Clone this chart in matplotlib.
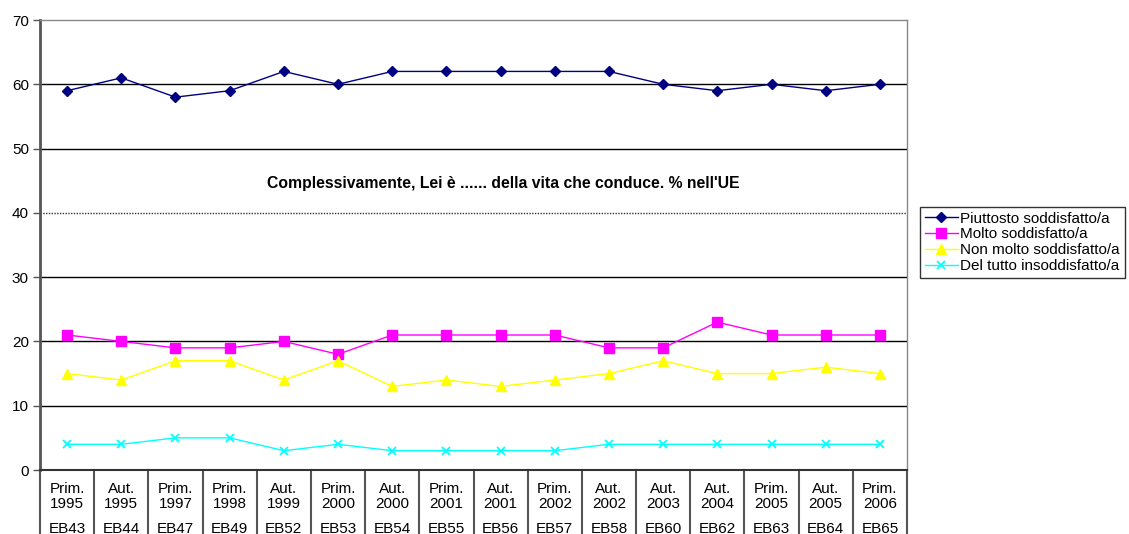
import matplotlib
matplotlib.use("Agg")
import matplotlib.pyplot as plt
from matplotlib.lines import Line2D

plt.rcParams['font.family'] = ['Liberation Sans', 'DejaVu Sans']

periods = ["Prim.\n1995", "Aut.\n1995", "Prim.\n1997", "Prim.\n1998", "Aut.\n1999", "Prim.\n2000",
           "Aut.\n2000", "Prim.\n2001", "Aut.\n2001", "Prim.\n2002", "Aut.\n2002", "Aut.\n2003",
           "Aut.\n2004", "Prim.\n2005", "Aut.\n2005", "Prim.\n2006"]
surveys = ["EB43", "EB44", "EB47", "EB49", "EB52", "EB53", "EB54", "EB55", "EB56", "EB57",
           "EB58", "EB60", "EB62", "EB63", "EB64", "EB65"]

piuttosto = [59, 61, 58, 59, 62, 60, 62, 62, 62, 62, 62, 60, 59, 60, 59, 60]
molto = [21, 20, 19, 19, 20, 18, 21, 21, 21, 21, 19, 19, 23, 21, 21, 21]
non_molto = [15, 14, 17, 17, 14, 17, 13, 14, 13, 14, 15, 17, 15, 15, 16, 15]
del_tutto = [4, 4, 5, 5, 3, 4, 3, 3, 3, 3, 4, 4, 4, 4, 4, 4]

series_names = ["Piuttosto soddisfatto/a", "Molto soddisfatto/a",
                "Non molto soddisfatto/a", "Del tutto insoddisfatto/a"]
title = "Complessivamente, Lei è ...... della vita che conduce. % nell'UE"

fig = plt.figure(figsize=(11.29, 5.34), dpi=100)
ax = fig.add_axes([40/1129, 64/534, 867/1129, 450/534])

n = len(periods)
x = list(range(n))

# gridlines
for v in range(10, 70, 10):
    if v == 40:
        ax.axhline(v, color='#333333', lw=1.0, ls=(0, (1, 1)), zorder=1)
    else:
        ax.axhline(v, color='black', lw=1.0, zorder=1)

ax.plot(x, piuttosto, color='#000080', marker='D', ms=5.5, lw=1.0, label=series_names[0], zorder=3)
ax.plot(x, molto, color='#FF00FF', marker='s', ms=6.5, lw=1.0, label=series_names[1], zorder=3)
ax.plot(x, non_molto, color='#FFFF00', marker='^', ms=7, lw=1.0, label=series_names[2], zorder=3)
ax.plot(x, del_tutto, color='#00FFFF', marker='x', ms=6, mew=1.3, lw=1.0, label=series_names[3], zorder=3)

ax.set_xlim(-0.5, n - 0.5)
ax.set_ylim(0, 70)
ax.set_yticks(range(0, 71, 10))
ax.tick_params(axis='y', labelsize=11, length=5, width=1, color='#555555', pad=3)
ax.set_xticks([])

for s in ['top', 'right']:
    ax.spines[s].set_color('#888888')
    ax.spines[s].set_linewidth(1.0)
ax.spines['left'].set_color('#555555')
ax.spines['left'].set_linewidth(2)
ax.spines['bottom'].set_color('#333333')
ax.spines['bottom'].set_linewidth(1.5)

# category labels
for i in range(n):
    ax.text(i, -1.9, periods[i], ha='center', va='top', fontsize=11, linespacing=1.05,
            transform=ax.transData, clip_on=False)
    ax.text(i, -8.1, surveys[i], ha='center', va='top', fontsize=11,
            transform=ax.transData, clip_on=False)

# separators
for i in range(n + 1):
    xb = i - 0.5
    ax.add_line(Line2D([xb, xb], [0, -9.95], color='#555555', lw=1.5, clip_on=False))

ax.text(8.05, 44.6, title, ha='center', va='center', fontsize=11.3, fontweight='bold')

leg = fig.legend(loc='upper left', bbox_to_anchor=(920/1129, 1 - 207/534), fontsize=11,
                 frameon=True, fancybox=False, edgecolor='black', borderpad=0.3,
                 labelspacing=0.12, handlelength=2.2, handletextpad=0.15, borderaxespad=0)
leg.get_frame().set_linewidth(1.0)

fig.savefig('out.png', dpi=100)
